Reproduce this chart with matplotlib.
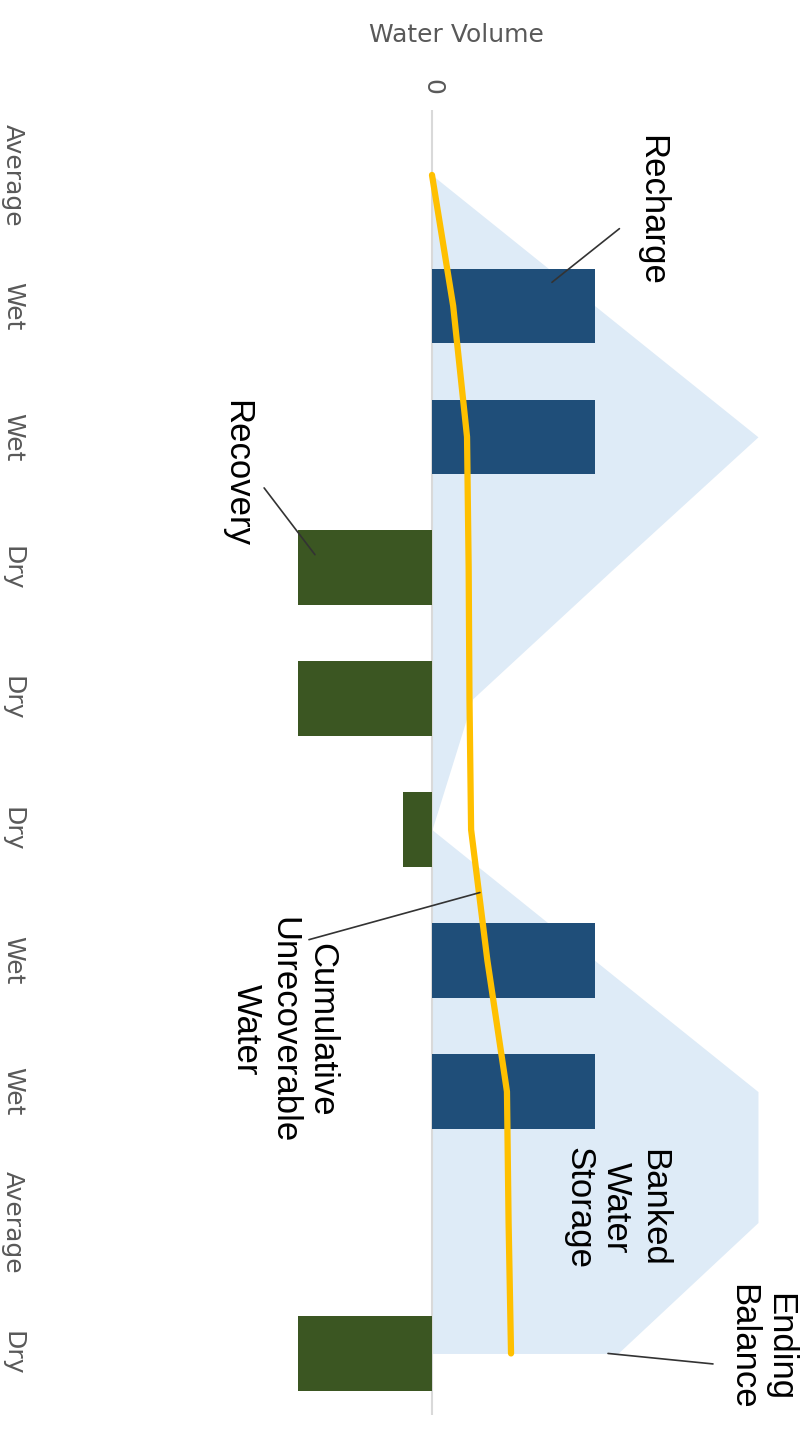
import matplotlib.pyplot as plt

# water year sequence and volumes (arbitrary units)
years = ['Average', 'Wet', 'Wet', 'Dry', 'Dry', 'Dry', 'Wet', 'Wet', 'Average', 'Dry']
recharge = [0, 100, 100, 0, 0, 0, 100, 100, 0, 0]
recovery = [0, 0, 0, -82, -82, -18, 0, 0, 0, -82]
banked = [0, 100, 200, 112, 25, 0, 100, 200, 200, 114]
unrecoverable = [0, 13, 21.5, 22.5, 23, 24, 34, 46, 47, 48.5]

pos = list(range(len(years)))

GRAY = '#595959'
LABEL_FONT = dict(family='Liberation Sans', fontsize=25, color='black',
                  rotation=-90, ha='center', va='center',
                  multialignment='center', linespacing=1.17)

fig = plt.figure(figsize=(8.08, 14.4), dpi=100)
ax = fig.add_axes([40 / 808, 25 / 1440, 768 / 808, 1305 / 1440])

# banked storage as a shaded band behind everything
ax.fill_betweenx(pos, 0, banked, color='#DEEBF7', lw=0, zorder=1)
ax.axvline(0, color='#D9D9D9', lw=1.5, zorder=1.5)

ax.barh(pos, recharge, height=0.57, color='#1F4E79', zorder=2)
ax.barh(pos, recovery, height=0.57, color='#3B5622', zorder=2)

ax.plot(unrecoverable, pos, color='#FFC000', lw=4.5,
        solid_capstyle='round', solid_joinstyle='round', zorder=3)

ax.set_xlim(-240.5, 230.7)
ax.set_ylim(9.47, -0.496)

for s in ax.spines.values():
    s.set_visible(False)

ax.set_yticks(pos)
ax.set_yticklabels(years, rotation=-90, va='center', color=GRAY, fontsize=18)
ax.tick_params(axis='y', length=0, pad=11)

ax.xaxis.tick_top()
ax.set_xticks([0])
ax.set_xticklabels(['0'], rotation=-90, color=GRAY, fontsize=18)
ax.tick_params(axis='x', length=0, pad=11)

ax.text(0.542, 1.0575, 'Water Volume', transform=ax.transAxes,
        ha='center', va='center', color=GRAY, fontsize=18)

# callout labels with thin leader lines
def callout(text, tx, ty, start, end):
    ax.text(tx, ty, text, **LABEL_FONT)
    ax.annotate('', xy=end, xytext=start,
                arrowprops=dict(arrowstyle='-', color='#333333', lw=1.2,
                                shrinkA=0, shrinkB=0))

callout('Recharge', 135, 0.27, (115, 0.41), (73.6, 0.82))
callout('Recovery', -119.6, 2.28, (-103, 2.39), (-71.8, 2.90))
callout('Cumulative\nUnrecoverable\nWater', -90.8, 6.53,
        (-75.5, 5.84), (29.4, 5.48))
callout('Ending\nBalance', 201.8, 8.95, (172.4, 9.08), (108, 9.0))
ax.text(112.9, 7.89, 'Banked\nWater\nStorage', **LABEL_FONT)

fig.savefig('out.png', dpi=100)
